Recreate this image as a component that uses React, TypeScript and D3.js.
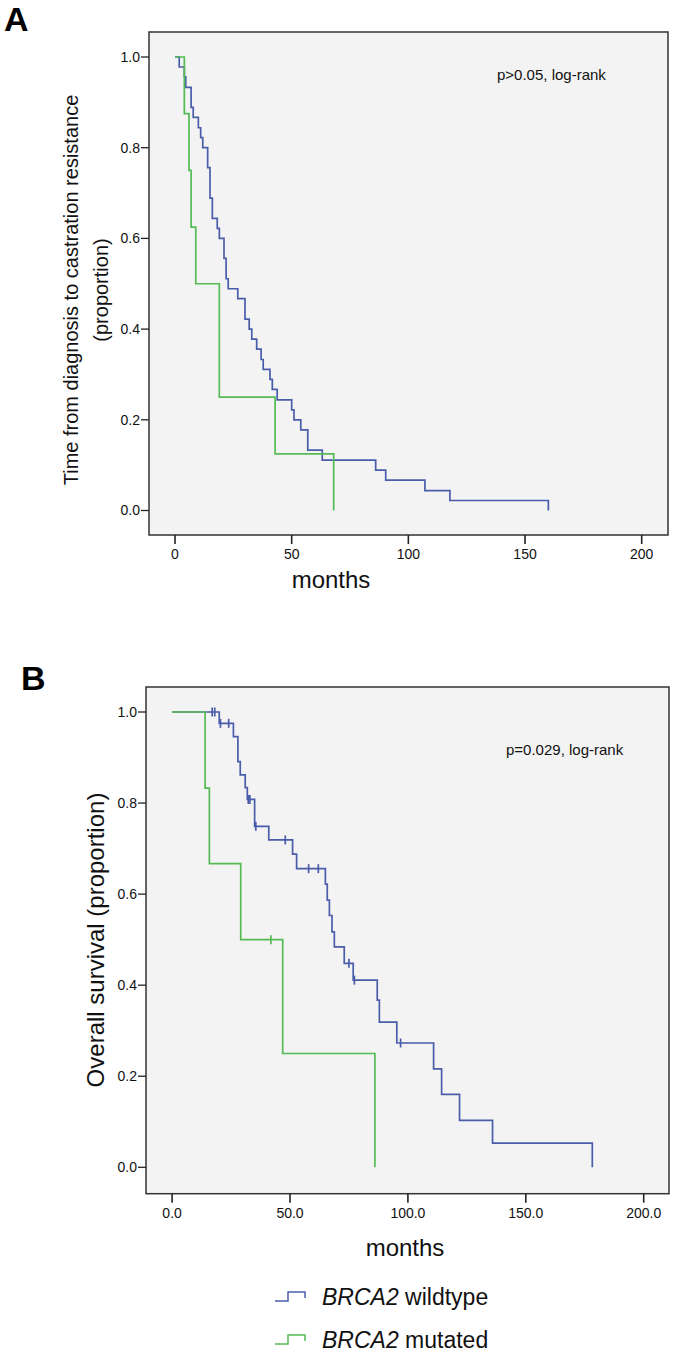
import React from "react";
import * as d3 from "d3";

// ---------- Data ----------
// Panel A: time from diagnosis to castration resistance (months)
const wildtypeA_t = [1.8, 4.0, 4.6, 6.9, 7.8, 10.0, 11.0, 11.9, 14.0, 15.0, 16.0, 18.1, 19.0, 21.0, 21.9, 22.8, 26.9, 30.0, 31.8, 32.9, 35.0, 36.9, 37.8, 40.7, 41.7, 43.8, 50.0, 51.0, 53.9, 56.9, 63.1, 86.0, 90.3, 107.1, 117.8, 160.0];
const wildtypeA_s = [0.978, 0.956, 0.933, 0.889, 0.867, 0.844, 0.822, 0.8, 0.756, 0.689, 0.644, 0.622, 0.6, 0.556, 0.511, 0.489, 0.467, 0.422, 0.4, 0.378, 0.356, 0.333, 0.311, 0.289, 0.267, 0.244, 0.222, 0.2, 0.178, 0.133, 0.111, 0.089, 0.067, 0.044, 0.022, 0];
const wildtypeA_censored: number[] = [];
const mutatedA_t = [4.0, 6.0, 6.9, 8.9, 19.0, 42.9, 68.0];
const mutatedA_s = [0.875, 0.75, 0.625, 0.5, 0.25, 0.125, 0];
const mutatedA_censored: number[] = [];

// Panel B: overall survival (months)
const wildtypeB_t = [20.0, 26.0, 27.9, 28.9, 31.0, 31.9, 35.0, 41.0, 51.1, 52.8, 65.0, 65.8, 66.7, 67.8, 68.8, 73.0, 76.8, 87.0, 87.9, 95.3, 110.9, 114.3, 121.9, 135.9, 178.2];
const wildtypeB_s = [0.975, 0.946, 0.891, 0.862, 0.834, 0.808, 0.749, 0.719, 0.688, 0.656, 0.622, 0.587, 0.553, 0.517, 0.484, 0.448, 0.411, 0.367, 0.319, 0.273, 0.216, 0.16, 0.103, 0.053, 0];
const wildtypeB_censored = [17.0, 18.1, 20.5, 24.0, 32.3, 33.0, 35.5, 48.0, 57.9, 62.0, 75.0, 77.3, 96.9];
const mutatedB_t = [14.0, 15.8, 29.1, 46.9, 86.0];
const mutatedB_s = [0.833, 0.667, 0.5, 0.25, 0];
const mutatedB_censored = [41.9];

const yTicks = [0, 0.2, 0.4, 0.6, 0.8, 1.0];
const xTicks = [0, 50, 100, 150, 200];
const xTickLabelsA = ["0", "50", "100", "150", "200"];
const xTickLabelsB = ["0.0", "50.0", "100.0", "150.0", "200.0"];

const legendLabels = ["wildtype", "mutated"];
const geneName = "BRCA2";

const BLUE = "#4a5daa";
const GREEN = "#55bb55";
const FONT = "'Liberation Sans', Arial, Helvetica, sans-serif";

type PanelProps = {
  box: { left: number; top: number; right: number; bottom: number };
  xRange: [number, number];
  yRange: [number, number];
  xLabels: string[];
  curves: { t: number[]; s: number[]; censored: number[]; color: string }[];
  pText: string;
  pPos: [number, number];
  monthsPos: [number, number];
  letter: string;
  letterPos: [number, number];
  yTitle: React.ReactNode;
};

function stepValue(t: number[], s: number[], x: number) {
  let v = 1;
  for (let i = 0; i < t.length; i++) {
    if (t[i] <= x) v = s[i];
  }
  return v;
}

function Panel(p: PanelProps) {
  const x = d3.scaleLinear().domain([0, 200]).range(p.xRange);
  const y = d3.scaleLinear().domain([0, 1]).range(p.yRange);
  const line = d3
    .line<[number, number]>()
    .x((d) => x(d[0]))
    .y((d) => y(d[1]))
    .curve(d3.curveStepAfter);
  const { box } = p;
  return (
    <g>
      <rect
        x={box.left}
        y={box.top}
        width={box.right - box.left}
        height={box.bottom - box.top}
        fill="#f3f3f3"
        stroke="#333"
        strokeWidth={1.5}
      />
      {p.curves.map((c, i) => {
        const pts: [number, number][] = [[0, 1]];
        c.t.forEach((tt, j) => pts.push([tt, c.s[j]]));
        return (
          <g key={i}>
            <path d={line(pts) || ""} fill="none" stroke={c.color} strokeWidth={1.7} />
            {c.censored.map((ct, k) => {
              const sv = stepValue(c.t, c.s, ct);
              return (
                <line
                  key={k}
                  x1={x(ct)}
                  x2={x(ct)}
                  y1={y(sv) - 4.5}
                  y2={y(sv) + 4.5}
                  stroke={c.color}
                  strokeWidth={1.7}
                />
              );
            })}
          </g>
        );
      })}
      {yTicks.map((v) => (
        <g key={v}>
          <line x1={box.left - 8} x2={box.left} y1={y(v)} y2={y(v)} stroke="#222" strokeWidth={1.3} />
          <text
            x={box.left - 9}
            y={y(v)}
            dy="0.35em"
            textAnchor="end"
            fontSize={14}
            fontFamily={FONT}
            fill="#111"
          >
            {v.toFixed(1)}
          </text>
        </g>
      ))}
      {xTicks.map((v, i) => (
        <g key={v}>
          <line x1={x(v)} x2={x(v)} y1={box.bottom} y2={box.bottom + 9} stroke="#222" strokeWidth={1.6} />
          <text
            x={x(v)}
            y={box.bottom + 24}
            textAnchor="middle"
            fontSize={14}
            fontFamily={FONT}
            fill="#111"
          >
            {p.xLabels[i]}
          </text>
        </g>
      ))}
      <text x={p.monthsPos[0]} y={p.monthsPos[1]} textAnchor="middle" fontSize={24} fontFamily={FONT} fill="#111">
        months
      </text>
      <text x={p.pPos[0]} y={p.pPos[1]} fontSize={15} fontFamily={FONT} fill="#111">
        {p.pText}
      </text>
      <text x={p.letterPos[0]} y={p.letterPos[1]} fontSize={34} fontWeight="bold" fontFamily={FONT} fill="#000">
        {p.letter}
      </text>
      {p.yTitle}
    </g>
  );
}

export default function App() {
  return (
    <svg
      width={675}
      height={1365}
      style={{ position: "absolute", left: 0, top: 0, background: "#fff" }}
    >
      <rect x={0} y={0} width={675} height={1365} fill="#fff" />
      <Panel
        box={{ left: 149, top: 32, right: 668, bottom: 535 }}
        xRange={[175, 641.7]}
        yRange={[510.5, 57]}
        xLabels={xTickLabelsA}
        curves={[
          { t: wildtypeA_t, s: wildtypeA_s, censored: wildtypeA_censored, color: BLUE },
          { t: mutatedA_t, s: mutatedA_s, censored: mutatedA_censored, color: GREEN },
        ]}
        pText="p>0.05, log-rank"
        pPos={[497, 80]}
        monthsPos={[331, 588]}
        letter="A"
        letterPos={[4, 31]}
        yTitle={
          <g transform="translate(71,290) rotate(-90)" fontFamily={FONT} fontSize={20} fill="#111">
            <text x={0} y={0} dy="0.35em" textAnchor="middle">
              Time from diagnosis to castration resistance
            </text>
            <text x={0} y={30} dy="0.35em" textAnchor="middle">
              (proportion)
            </text>
          </g>
        }
      />
      <Panel
        box={{ left: 146, top: 687, right: 669, bottom: 1193.7 }}
        xRange={[172.1, 643.7]}
        yRange={[1167.3, 712]}
        xLabels={xTickLabelsB}
        curves={[
          { t: wildtypeB_t, s: wildtypeB_s, censored: wildtypeB_censored, color: BLUE },
          { t: mutatedB_t, s: mutatedB_s, censored: mutatedB_censored, color: GREEN },
        ]}
        pText="p=0.029, log-rank"
        pPos={[506, 755]}
        monthsPos={[405, 1256]}
        letter="B"
        letterPos={[21, 690]}
        yTitle={
          <g transform="translate(96,940) rotate(-90)" fontFamily={FONT} fontSize={24} fill="#111">
            <text x={0} y={0} dy="0.35em" textAnchor="middle">
              Overall survival (proportion)
            </text>
          </g>
        }
      />
      {[BLUE, GREEN].map((c, i) => {
        const yb = 1305 + i * 43;
        return (
          <g key={i}>
            <path
              d={`M275,${yb - 4}H288V${yb - 13}H305V${yb - 7}`}
              fill="none"
              stroke={c}
              strokeWidth={1.5}
            />
            <text x={322} y={yb} fontSize={23} fontFamily={FONT} fill="#111">
              <tspan fontStyle="italic">{geneName}</tspan>
              <tspan> {legendLabels[i]}</tspan>
            </text>
          </g>
        );
      })}
    </svg>
  );
}
